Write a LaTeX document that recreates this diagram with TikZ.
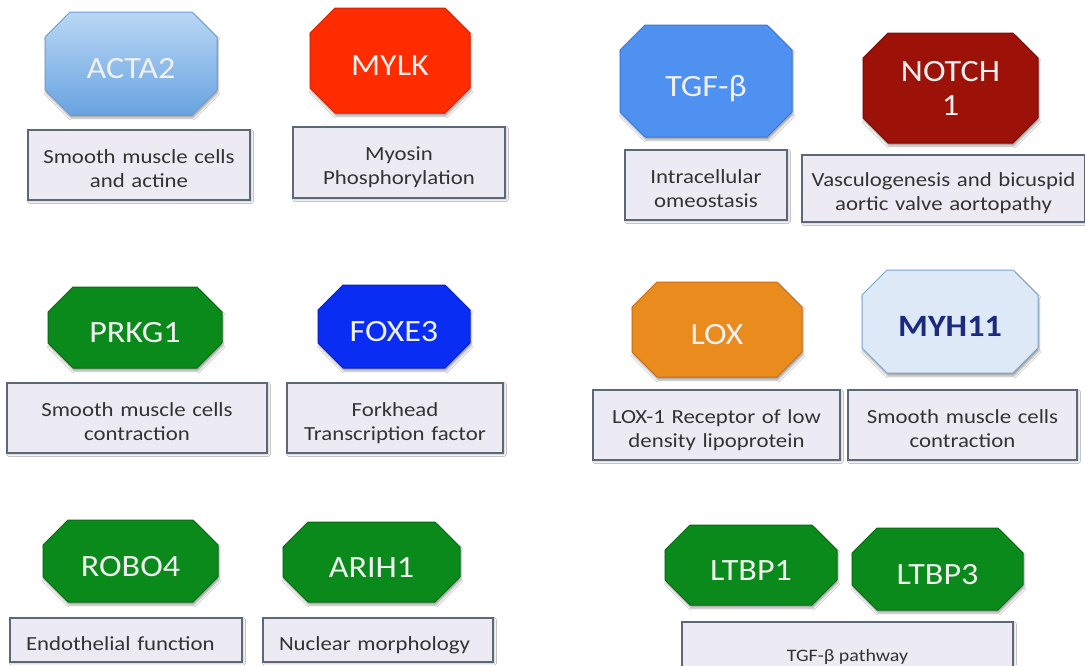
\documentclass[tikz,border=0pt]{standalone}
\usepackage{fontspec}
\setmainfont{Carlito}
\newfontfamily\genefont{Carlito}[FakeStretch=1.1]
\newfontfamily\notefont{Carlito}[FakeStretch=1.14]
\usetikzlibrary{shadows.blur}

\definecolor{actaTop}{HTML}{B9D7F5}
\definecolor{actaBot}{HTML}{68A4E0}
\definecolor{actaLine}{HTML}{6E9ED0}
\definecolor{mylkFill}{HTML}{FF2C00}
\definecolor{mylkLine}{HTML}{D22200}
\definecolor{tgfFill}{HTML}{4E91F1}
\definecolor{tgfLine}{HTML}{3B79D6}
\definecolor{notchFill}{HTML}{9C1208}
\definecolor{notchLine}{HTML}{780C05}
\definecolor{greenFill}{HTML}{0B8A1C}
\definecolor{greenLine}{HTML}{0A6B16}
\definecolor{foxeFill}{HTML}{0A2DF4}
\definecolor{foxeLine}{HTML}{0A21C2}
\definecolor{loxFill}{HTML}{E98B1D}
\definecolor{loxLine}{HTML}{C57115}
\definecolor{myhFill}{HTML}{DDE9F6}
\definecolor{myhLine}{HTML}{7CA3CC}
\definecolor{myhText}{HTML}{1B2A7C}
\definecolor{noteFill}{HTML}{ECEBF3}
\definecolor{noteLine}{HTML}{5C6878}
\definecolor{noteText}{HTML}{333333}

\begin{document}
\begin{tikzpicture}
[x=1pt,y=-1pt,
 octagon/.style={line width=1pt,line join=round,
   blur shadow={shadow xshift=1pt,shadow yshift=-3pt,shadow opacity=35}},
 actaLook/.style={top color=actaTop,bottom color=actaBot,draw=actaLine},
 mylkLook/.style={fill=mylkFill,draw=mylkLine},
 tgfLook/.style={fill=tgfFill,draw=tgfLine},
 notchLook/.style={fill=notchFill,draw=notchLine},
 greenLook/.style={fill=greenFill,draw=greenLine},
 foxeLook/.style={fill=foxeFill,draw=foxeLine},
 loxLook/.style={fill=loxFill,draw=loxLine},
 myhLook/.style={fill=myhFill,draw=myhLine},
 gene/.style={inner sep=0pt,align=center,text=white!94!black,
   font=\genefont\fontsize{31}{34}\selectfont},
 plainTxt/.style={text height=30pt,text depth=0pt},
 twoTxt/.style={},
 myhTxt/.style={plainTxt,text=myhText,
   font=\genefont\bfseries\fontsize{31}{34}\selectfont},
 note/.style={rectangle,draw=noteLine,fill=noteFill,line width=1.2pt,
   inner xsep=4pt,inner ysep=0pt,align=center,text=noteText,
   font=\notefont\fontsize{20}{24}\selectfont,
   blur shadow={shadow xshift=1.5pt,shadow yshift=-1.5pt,shadow opacity=25}},
 twoline/.style={text height=22pt,text depth=26pt},
 leftnote/.style={note,align=left,inner xsep=16pt,text height=21pt,text depth=0pt}]
\useasboundingbox[fill=white] (0,0) rectangle (1085,665);
\def\cut{25}
%% gene octagons
\foreach \name/\cx/\cy/\w/\h/\look/\tsty/\txt in
  {acta/131/63.5/172/103/actaLook/plainTxt/ACTA2,
   mylk/390/60.5/160/105/mylkLook/plainTxt/MYLK,
   tgfb/706/81/172/112/tgfLook/plainTxt/TGF-β,
   notch/950.5/88/175/110/notchLook/twoTxt/NOTCH\\1,
   prkg/135/327.5/174/81/greenLook/plainTxt/PRKG1,
   foxe/394/326.5/152/83/foxeLook/plainTxt/FOXE3,
   lox/717/329.5/170/95/loxLook/plainTxt/LOX,
   myh/950/321.5/176/103/myhLook/myhTxt/MYH11,
   robo/130.5/561/175/82/greenLook/plainTxt/ROBO4,
   arih/371.5/562/177/80/greenLook/plainTxt/ARIH1,
   ltbpA/751/565/172/80/greenLook/plainTxt/LTBP1,
   ltbpB/937.5/569/171/82/greenLook/plainTxt/LTBP3}
{
  \filldraw[octagon,\look]
    (\cx-\w/2+\cut,\cy-\h/2) -- (\cx+\w/2-\cut,\cy-\h/2) --
    (\cx+\w/2,\cy-\h/2+\cut) -- (\cx+\w/2,\cy+\h/2-\cut) --
    (\cx+\w/2-\cut,\cy+\h/2) -- (\cx-\w/2+\cut,\cy+\h/2) --
    (\cx-\w/2,\cy+\h/2-\cut) -- (\cx-\w/2,\cy-\h/2+\cut) -- cycle;
  \node[gene,\tsty,minimum width=\w pt,minimum height=\h pt] (\name) at (\cx,\cy) {\txt};
}
%% function boxes
\foreach \name/\cx/\cy/\w/\h/\txt in
  {actaNote/139/165/222/70/Smooth muscle cells\\and actine,
   mylkNote/399/162.5/212/71/Myosin\\Phosphorylation,
   tgfbNote/706/185/162/70/Intracellular\\omeostasis,
   notchNote/943.5/188.5/283/67/Vasculogenesis and bicuspid\\aortic valve aortopathy,
   prkgNote/137/418/260/70/Smooth muscle cells\\contraction,
   foxeNote/395/418/216/70/Forkhead\\Transcription factor,
   loxNote/716.5/425/247/70/LOX-1 Receptor of low\\density lipoprotein,
   myhNote/962.5/425/229/70/Smooth muscle cells\\contraction}
{
  \node[note,twoline,text width=\w pt-8pt,minimum height=\h pt] (\name) at (\cx,\cy) {\txt};
}
\node[leftnote,text width=200pt,minimum height=44pt] (roboNote) at (126,640) {Endothelial function};
\node[leftnote,text width=198pt,minimum height=44pt] (arihNote) at (378,640) {Nuclear morphology};
\node[note,minimum width=331pt,minimum height=70pt,
  font=\notefont\fontsize{17.5}{21}\selectfont] (ltbpNote) at (847.5,657) {TGF-β pathway};
\end{tikzpicture}
\end{document}
